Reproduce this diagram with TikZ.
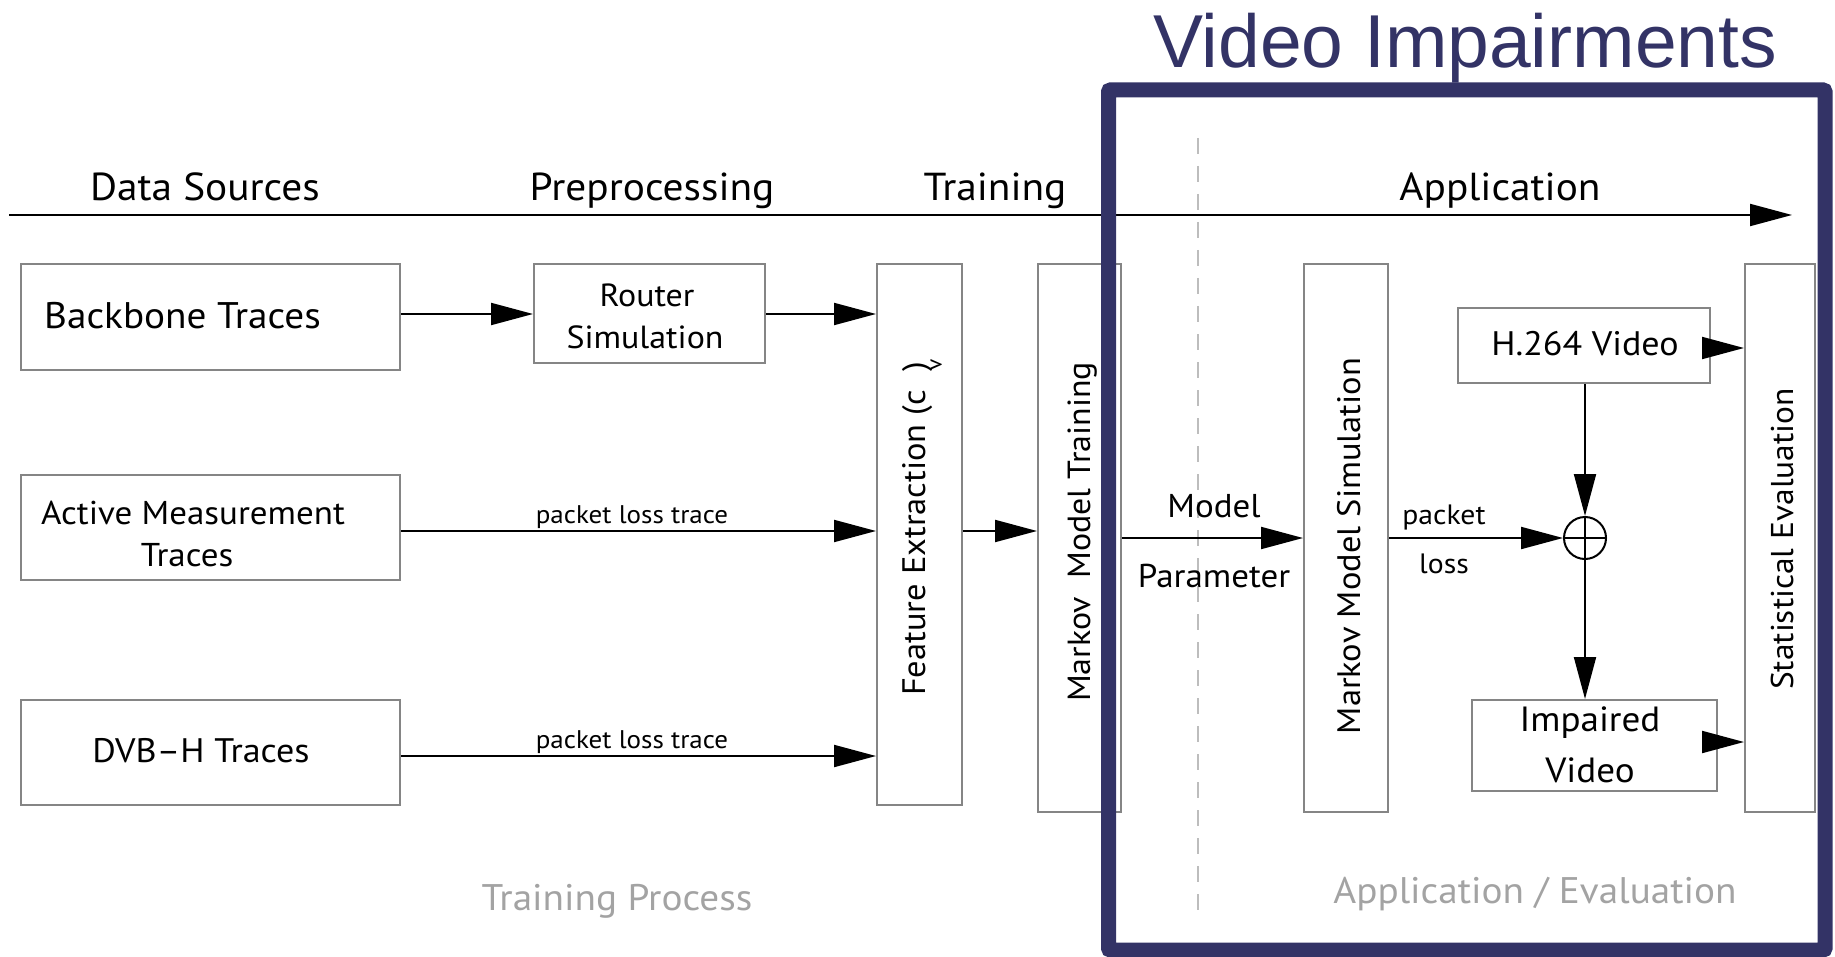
\documentclass[tikz,border=0pt]{standalone}
\usepackage{fontspec}
\setmainfont{PT Sans}[FakeStretch=1.06]
\newfontfamily\titlefont{Liberation Sans}
\usetikzlibrary{arrows.meta}
\definecolor{navy}{HTML}{333366}
\definecolor{boxgray}{HTML}{858585}
\definecolor{labelgray}{HTML}{A3A3A3}
\definecolor{dashgray}{HTML}{BDBDBD}
\newcommand\fsz[2]{\fontsize{#1}{#2}\selectfont}

\begin{document}
\begin{tikzpicture}[x=1pt,y=-1pt,
  box/.style={draw=boxgray, line width=2pt, inner sep=0pt},
  txt/.style={font=\fsz{33}{40}, align=center, inner sep=0pt},
  head/.style={font=\fsz{39}{46}, anchor=base, inner sep=0pt},
  small/.style={font=\fsz{25.5}{30}, anchor=base, inner sep=0pt},
  mid/.style={font=\fsz{33}{38}, anchor=base, inner sep=0pt},
  vtxt/.style={font=\fsz{32.5}{38}, rotate=90, inner sep=0pt},
  link/.style={draw=black, line width=2pt, -{Triangle[length=42pt,width=22pt]}}
]
\useasboundingbox (0,0) rectangle (1835,957);

% phase axis
\coordinate (axl) at (9,215);
\coordinate (axr) at (1792,215);
\draw[link] (axl) -- (axr);
\node[head] (hds) at (205,201) {Data Sources};
\node[head] (hpp) at (652,201) {Preprocessing};
\node[head] (htr) at (995,201) {Training};
\node[head] (hap) at (1500,201) {Application};

% divider between training and application
\coordinate (dvt) at (1198,138);
\coordinate (dvb) at (1198,913);
\draw[dashgray, line width=2pt, dash pattern=on 16pt off 12pt] (dvt) -- (dvb);

% heights of the horizontal connectors
\coordinate (yB) at (0,314);
\coordinate (yA) at (0,531);
\coordinate (yD) at (0,756);
\coordinate (yH) at (0,348);
\coordinate (yI) at (0,742);

% data sources
\node[box, minimum width=379pt, minimum height=106pt] (bb) at (210.5,317) {};
\node[txt, anchor=west, font=\fsz{37}{44}] (bbt) at (44,316) {Backbone Traces};
\node[box, minimum width=379pt, minimum height=105pt] (am) at (210.5,527.5) {};
\node[txt] (amt) at (193,513) {Active Measurement};
\node[txt] (amt2) at (187,555) {Traces};
\node[box, minimum width=379pt, minimum height=105pt] (dv) at (210.5,752.5) {};
\node[txt, font=\fsz{34}{40}] (dvt2) at (201,751) {DVB–H Traces};

% preprocessing
\node[box, minimum width=231pt, minimum height=99pt] (rs) at (649.5,313.5) {};
\node[txt, font=\fsz{32}{38}] (rst) at (647,295) {Router};
\node[txt, font=\fsz{32}{38}] (rst2) at (645,337) {Simulation};

% feature extraction and training
\node[box, minimum width=85pt, minimum height=541pt] (fe) at (919.5,534.5) {};
\node[vtxt] (fet) at (922,529) {Feature Extraction (c\ \ )\llap{\raisebox{-0.5em}{\fsz{22}{26}v}\kern-0.1em}};
\node[box, minimum width=83pt, minimum height=548pt] (mt) at (1079.5,538) {};
\node[vtxt, font=\fsz{32}{38}] (mtt) at (1083,532) {Markov\ \ Model Training};

% application
\node[box, minimum width=84pt, minimum height=548pt] (ms) at (1346,538) {};
\node[vtxt] (mst) at (1349,546) {Markov Model Simulation};
\node[box, minimum width=70pt, minimum height=548pt] (se) at (1780,538) {};
\node[vtxt, font=\fsz{31.5}{38}] (set) at (1782,539) {Statistical Evaluation};
\node[box, minimum width=252pt, minimum height=75pt] (h2) at (1584,345.5) {};
\node[txt, font=\fsz{34}{40}] (h2t) at (1585,344) {H.264 Video};
\node[box, minimum width=245pt, minimum height=91pt] (iv) at (1594.5,745.5) {};
\node[txt, font=\fsz{35}{42}] (ivt) at (1590,723) {Impaired};
\node[txt, font=\fsz{35}{42}] (ivt2) at (1590,770) {Video};
\node[circle, draw=black, line width=2pt, minimum size=42pt, inner sep=0pt] (ox) at (1585,538) {};
\draw[line width=2pt] (ox.north) -- (ox.south);
\draw[line width=2pt] (ox.west) -- (ox.east);

% connectors
\draw[link] (bb.east |- yB) -- (rs.west |- yB);
\draw[link] (rs.east |- yB) -- (fe.west |- yB);
\draw[link] (am.east |- yA) -- (fe.west |- yA);
\node[small] (plt1) at (632,523) {packet loss trace};
\draw[link] (dv.east |- yD) -- (fe.west |- yD);
\node[small] (plt2) at (632,748) {packet loss trace};
\draw[link] (fe.east |- yA) -- (mt.west |- yA);
\draw[link] (mt.east |- ox) -- (ms.west |- ox);
\node[mid] (mp1) at (1214,517) {Model};
\node[mid] (mp2) at (1214,587) {Parameter};
\draw[link] (ms.east |- ox) -- (ox.west);
\node[mid, font=\fsz{28}{34}] (pl1) at (1444,524) {packet};
\node[mid, font=\fsz{28}{34}] (pl2) at (1444,573) {loss};
\draw[link] (h2.south -| ox) -- (ox.north);
\draw[link] (ox.south) -- (ox |- iv.north);
\draw[link] (h2.east |- yH) -- (se.west |- yH);
\draw[link] (iv.east |- yI) -- (se.west |- yI);

% phase captions
\node[head, text=labelgray, font=\fsz{37}{44}] (ctp) at (617,910) {Training Process};
\node[head, text=labelgray, font=\fsz{37}{44}] (cae) at (1535,903) {Application / Evaluation};

% highlighted region
\draw[navy, line width=15pt, rounded corners=2pt] (1108.5,90) rectangle (1825,950);
\node[font=\titlefont\fsz{75}{90}, text=navy, anchor=base, inner sep=0pt] (title) at (1465,68) {Video Impairments};
\end{tikzpicture}
\end{document}
